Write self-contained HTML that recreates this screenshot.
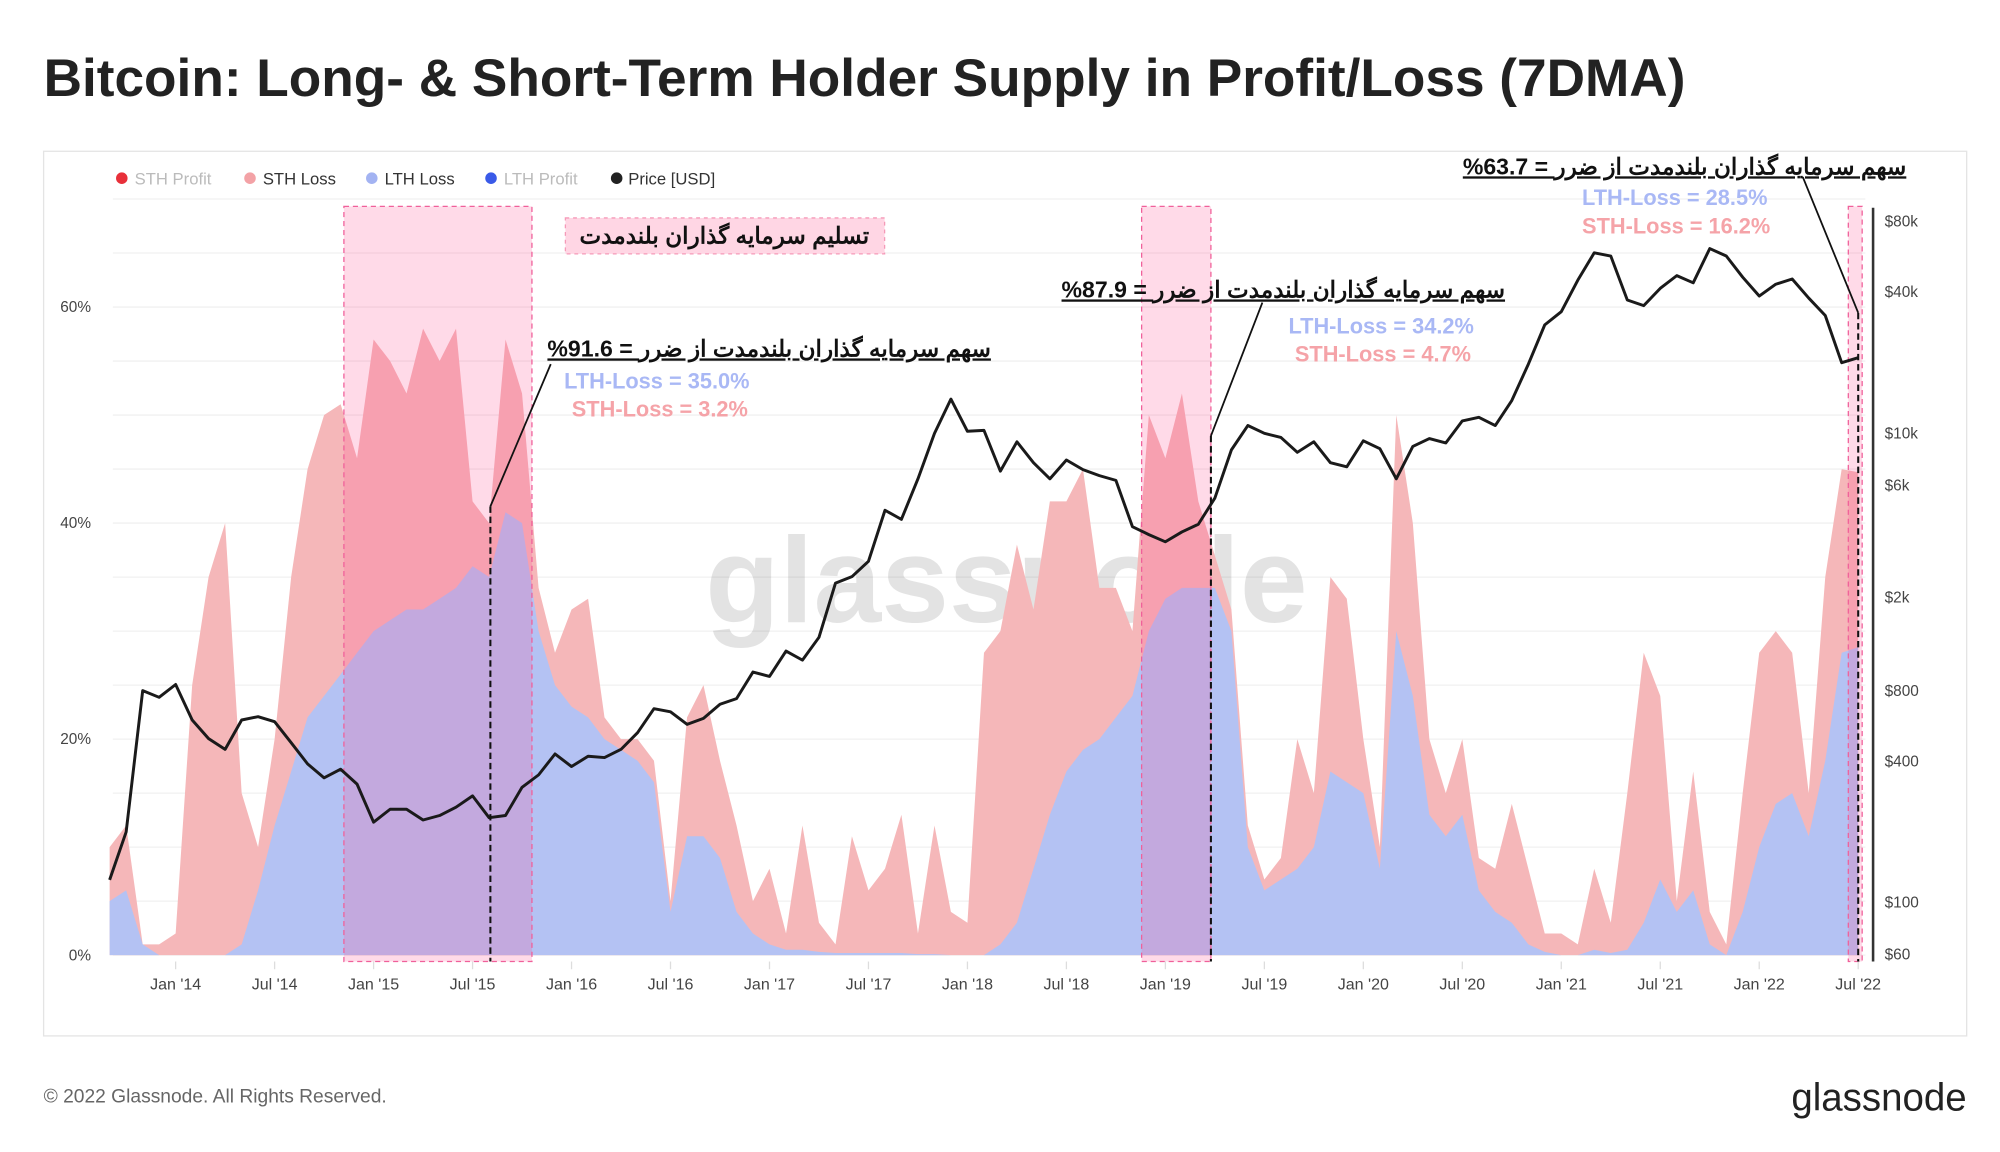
<!DOCTYPE html>
<html><head><meta charset="utf-8">
<style>
html,body{margin:0;padding:0;background:#fff;}
svg{display:block;}
text{font-family:"Liberation Sans","Noto Sans CJK SC",sans-serif;}
</style></head>
<body>
<svg id="chart" width="2000" height="1152" viewBox="0 0 1560 898.56" xmlns="http://www.w3.org/2000/svg">
  <text x="34" y="75" font-size="41.5" font-weight="600" fill="#222">Bitcoin: Long- &amp; Short-Term Holder Supply in Profit/Loss (7DMA)</text>
  <rect x="34" y="118" width="1500" height="690" fill="#fff" stroke="#e4e4e4" stroke-width="1"/>
  <g font-size="13">
    <g><circle cx="95" cy="139" r="4.5" fill="#e8303a"/><text x="105" y="144" fill="#bbb">STH Profit</text></g>
    <g><circle cx="195" cy="139" r="4.5" fill="#f3a2a6"/><text x="205" y="144" fill="#333">STH Loss</text></g>
    <g><circle cx="290" cy="139" r="4.5" fill="#a3b3f2"/><text x="300" y="144" fill="#333">LTH Loss</text></g>
    <g><circle cx="383" cy="139" r="4.5" fill="#3a5ae8"/><text x="393" y="144" fill="#bbb">LTH Profit</text></g>
    <g><circle cx="481" cy="139" r="4.5" fill="#222"/><text x="490" y="144" fill="#333">Price [USD]</text></g>
  </g>
  <g id="grid"></g>
  <text x="785" y="485" text-anchor="middle" font-size="95" font-weight="600" fill="#000" fill-opacity="0.11">glassnode</text>
  <g id="areas"></g>
  <g id="regions"></g>
  <g id="priceg"></g>
  <g id="axes"></g>
  <g id="annot" font-weight="bold">
    <rect x="441" y="170" width="249" height="28" fill="#ffd6e4" stroke="#f59ab8" stroke-dasharray="3,3"/>
    <text x="565" y="190" text-anchor="middle" font-size="18" fill="#111">تسلیم سرمایه گذاران بلندمدت</text>

    <text x="427" y="278" font-size="18" fill="#111" text-decoration="underline">%91.6 = سهم سرمایه گذاران بلندمدت از ضرر</text>
    <text x="440" y="303" font-size="17" fill="#a9b8f5">LTH-Loss = 35.0%</text>
    <text x="446" y="325" font-size="17" fill="#f5a3a8">STH-Loss = 3.2%</text>

    <text x="828" y="232" font-size="18" fill="#111" text-decoration="underline">%87.9 = سهم سرمایه گذاران بلندمدت از ضرر</text>
    <text x="1005" y="260" font-size="17" fill="#a9b8f5">LTH-Loss = 34.2%</text>
    <text x="1010" y="282" font-size="17" fill="#f5a3a8">STH-Loss = 4.7%</text>

    <text x="1141" y="136" font-size="18" fill="#111" text-decoration="underline">%63.7 = سهم سرمایه گذاران بلندمدت از ضرر</text>
    <text x="1234" y="160" font-size="17" fill="#a9b8f5">LTH-Loss = 28.5%</text>
    <text x="1234" y="182" font-size="17" fill="#f5a3a8">STH-Loss = 16.2%</text>
  </g>
  <text x="34" y="860" font-size="15" fill="#666">© 2022 Glassnode. All Rights Reserved.</text>
  <text x="1534" y="866" text-anchor="end" font-size="30" fill="#222">glassnode</text>
</svg>
<script>
// Monthly data from Sep 2013 to Jul 2022
const startYear = 2013 + 8/12;
const lthLoss = [5,6,1,0, 0,0,0,0,1,6,12,17,22,24,26,28, 30,31,32,32,33,34,36,35,41,40,30,25, 23,22,20,19,18,16,4,11,11,9,4,2, 1,0.5,0.5,0.3,0.2,0.2,0.2,0.2,0.2,0.1,0.1,0, 0,0,1,3,8,13,17,19,20,22,24,30, 33,34,34,34,30,10,6,7,8,10,17,16, 15,8,30,24,13,11,13,6,4,3,1,0.3, 0,0,0.5,0.2,0.5,3,7,4,6,1,0,4, 10,14,15,11,18,28,28.5];
const sthLoss = [5,6,0,1, 2,25,35,40,14,4,8,18,23,26,25,18, 27,24,20,26,22,24,6,5,16,12,4,3, 9,11,2,1,2,2,1,11,14,9,8,3, 7,1.5,11.5,2.7,0.8,10.8,5.8,7.8,12.8,1.9,11.9,4, 3,28,29,35,24,29,25,26,14,12,6,20, 13,18,8,3,2,2,1,2,12,5,18,17, 5,2,20,16,7,4,7,3,4,11,7,1.7, 2,1,7.5,2.8,14.5,25,17,1,11,3,1,11, 18,16,13,4,17,17,16.2];
const price = [125,200,800,750, 850,600,500,450,600,620,590,480,390,340,370,320, 220,250,250,225,235,255,285,230,235,310,350,430, 380,420,415,450,530,670,650,575,610,700,740,960, 920,1180,1080,1350,2300,2450,2850,4700,4300,6400,10000,14000, 10200,10300,6900,9200,7500,6400,7700,7000,6600,6300,4000,3700, 3450,3800,4100,5300,8500,10800,10000,9600,8300,9200,7500,7200, 9300,8600,6400,8800,9500,9100,11300,11700,10800,13800,19700,29000, 33000,45000,58800,57000,37000,35000,41500,47000,43800,61300,57000,46300, 38500,43200,45500,37700,31800,20000,21000];
const pctTicks = [0,20,40,60];
const pctTickLabels = ["0%","20%","40%","60%"];
const priceTicks = [60,100,400,800,2000,6000,10000,40000,80000];
const priceTickLabels = ["$60","$100","$400","$800","$2k","$6k","$10k","$40k","$80k"];
const dateTicks = [2014,2014.5,2015,2015.5,2016,2016.5,2017,2017.5,2018,2018.5,2019,2019.5,2020,2020.5,2021,2021.5,2022,2022.5];
const dateTickLabels = ["Jan '14","Jul '14","Jan '15","Jul '15","Jan '16","Jul '16","Jan '17","Jul '17","Jan '18","Jul '18","Jan '19","Jul '19","Jan '20","Jul '20","Jan '21","Jul '21","Jan '22","Jul '22"];
const regions = [[2014.85,2015.80],[2018.88,2019.23],[2022.45,2022.52]];
const markers = [[2015.59,395,2015.895,284],[2019.23,340,2019.49,236],[2022.5,244,2022.22,138]];

const NS="http://www.w3.org/2000/svg";
const X = t => 137 + (t-2014)*154.4;
const Yp = v => 745 - v*8.425;
const Yl = p => 704 - 183*Math.log10(p/100);
const tAt = i => startYear + i/12;
function mk(tag, attrs, parent){const e=document.createElementNS(NS,tag);for(const k in attrs)e.setAttribute(k,attrs[k]);parent.appendChild(e);return e;}

const grid=document.getElementById('grid');
for(let v=0; v<=70; v+=5){
  const l=mk('line',{x1:88,x2:1455,y1:Yp(v),y2:Yp(v),stroke:'#f1f1f1','stroke-width':1},grid);
  
  
}

const areas=document.getElementById('areas');
function areaPath(vals){
  let d='M'+X(tAt(0))+','+Yp(0);
  vals.forEach((v,i)=>{d+=' L'+X(tAt(i)).toFixed(1)+','+Yp(v).toFixed(1);});
  d+=' L'+X(tAt(vals.length-1)).toFixed(1)+','+Yp(0)+' Z';
  return d;
}
const totals=lthLoss.map((v,i)=>v+sthLoss[i]);
const sthArea=mk('path',{d:areaPath(totals),fill:'#f5b7b9'},areas);


const lthArea=mk('path',{d:areaPath(lthLoss),fill:'#b4c2f3'},areas);



const rg=document.getElementById('regions');
regions.forEach(r=>{
  const rect=mk('rect',{x:X(r[0]),y:161,width:X(r[1])-X(r[0]),height:589,fill:'rgb(255,68,141)','fill-opacity':0.2,stroke:'#f0609a','stroke-width':1,'stroke-dasharray':'4,3'},rg);
  
  
});

const pg=document.getElementById('priceg');
let pd='';
price.forEach((p,i)=>{pd+=(i?' L':'M')+X(tAt(i)).toFixed(1)+','+Yl(p).toFixed(1);});
const pl=mk('path',{d:pd,fill:'none',stroke:'#1a1a1a','stroke-width':2.3,'stroke-linejoin':'round'},pg);



const an=document.getElementById('annot');
markers.forEach(m=>{
  const v=mk('line',{x1:X(m[0]),x2:X(m[0]),y1:m[1],y2:750,stroke:'#111','stroke-width':1.6,'stroke-dasharray':'5,3'},an);
  
  
  const c=mk('line',{x1:X(m[0]),y1:m[1],x2:X(m[2]),y2:m[3],stroke:'#111','stroke-width':1.4},an);
  
  
});

const ax=document.getElementById('axes');
pctTicks.forEach((v,i)=>{
  const t=mk('text',{x:71,y:Yp(v)+4,'text-anchor':'end','font-size':12,fill:'#444'},ax);
  t.textContent=pctTickLabels[i];
  
  
});
const ra=mk('line',{x1:1461,x2:1461,y1:162,y2:750,stroke:'#333','stroke-width':2},ax);


priceTicks.forEach((p,i)=>{
  const t=mk('text',{x:1470,y:Yl(p)+4,'font-size':12,fill:'#444'},ax);
  t.textContent=priceTickLabels[i];
  
  
});
dateTicks.forEach((d,i)=>{
  const tk=mk('line',{x1:X(d),x2:X(d),y1:750,y2:756,stroke:'#ddd'},ax);
  
  
  const t=mk('text',{x:X(d),y:772,'text-anchor':'middle','font-size':12.5,fill:'#444'},ax);
  t.textContent=dateTickLabels[i];
  
  
});
</script>
</body></html>
